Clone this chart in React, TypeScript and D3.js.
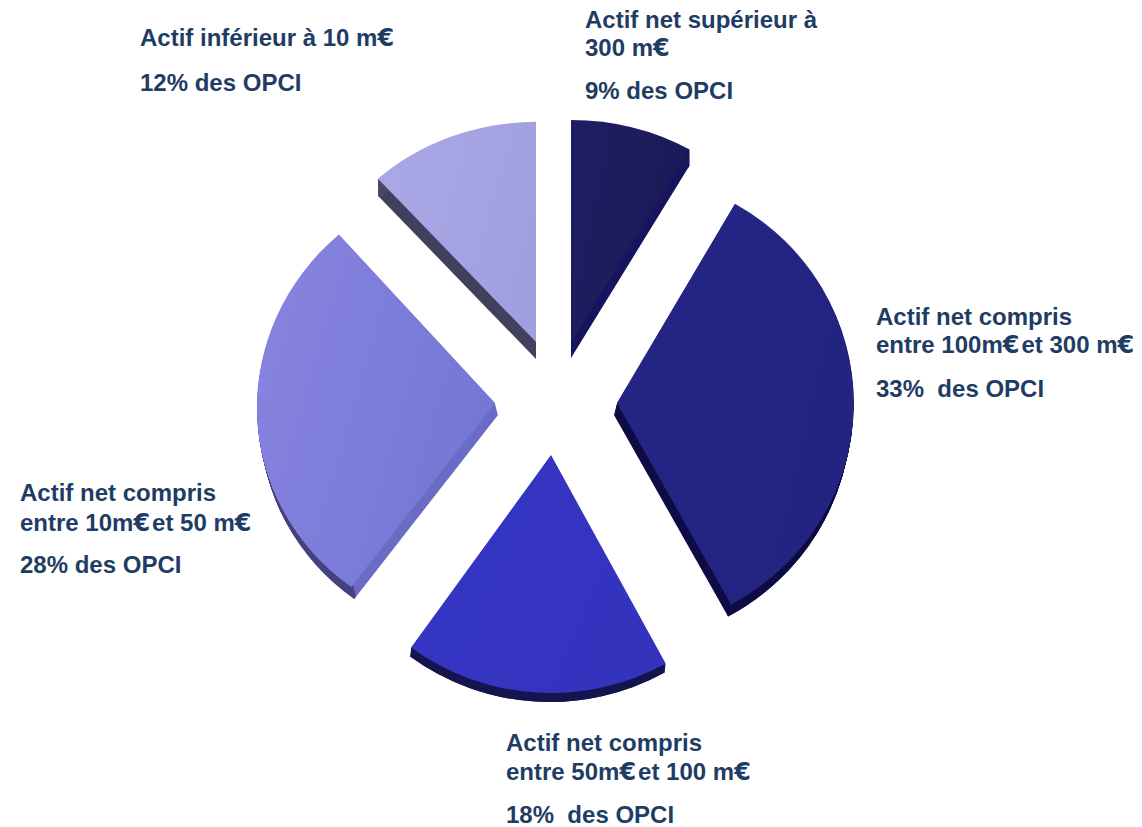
import React from "react";
import * as d3 from "d3";

const W = 1142;
const H = 827;

// Shares as drawn (starting at 12 o'clock, clockwise); the labels carry the printed percentages
const categories = [
  "Actif net supérieur à 300 m€",
  "Actif net compris entre 100m€ et 300 m€",
  "Actif net compris entre 50m€ et 100 m€",
  "Actif net compris entre 10m€ et 50 m€",
  "Actif inférieur à 10 m€",
];
const shares = [8.3, 33.7, 18, 28.3, 11.7];

// Exploded layout of each slice: apex and the projection's scale
const apexX = [571, 617, 551, 495, 536];
const apexY = [342, 403, 455, 403, 342];
const scaleX = [1.0, 0.995, 1.0, 1.0, 0.99];
const scaleY = [0.933, 0.966, 1.0, 0.955, 0.925];
const skewK = [0, 0, 0, -0.02, 0];
const depthX = [0, -3, -1, 3, 0];
const depthY = [16, 12, 9, 12, 17];

const gradStart = ["#201e63", "#252586", "#3636c6", "#8984e0", "#aba8e7"];
const gradEnd = ["#1b1a56", "#232381", "#3333be", "#7577d5", "#a1a0df"];
const edgeColor = ["#17155f", "#0f0d45", "#15154f", "#6b6cc4", "#43415f"];
const rimColor = ["#17155f", "#0f0d45", "#15154f", "#45437f", "#4a4868"];

const labelX = [585, 876, 506, 20, 140];
const labelLines = [
  ["Actif net supérieur à", "300 m€", "9% des OPCI"],
  ["Actif net compris", "entre 100m€et 300 m€", "33%  des OPCI"],
  ["Actif net compris", "entre 50m€et 100 m€", "18%  des OPCI"],
  ["Actif net compris", "entre 10m€et 50 m€", "28% des OPCI"],
  ["Actif inférieur à 10 m€", "12% des OPCI"],
];
const labelBaselines = [
  [28, 56, 99],
  [325, 353, 397],
  [751, 780, 823],
  [501, 531, 573],
  [46, 91],
];

const R = 238;

export default function App() {
  const pie = d3.pie<number>().sort(null).value((d) => d);
  const arcs = pie(shares);
  const sector = d3.arc<d3.PieArcDatum<number>>().innerRadius(0).outerRadius(R);
  const rim = d3
    .arc<d3.PieArcDatum<number>>()
    .innerRadius(R - 3)
    .outerRadius(R);

  return (
    <svg
      width={W}
      height={H}
      viewBox={`0 0 ${W} ${H}`}
      style={{ position: "absolute", left: 0, top: 0, display: "block", background: "#fff" }}
    >
      <defs>
        {arcs.map((_, i) => (
          <linearGradient key={i} id={`grad${i}`} x1="0" y1="0" x2="1" y2="0.4">
            <stop offset="0" stopColor={gradStart[i]} />
            <stop offset="1" stopColor={gradEnd[i]} />
          </linearGradient>
        ))}
      </defs>
      {arcs.map((a, i) => {
        const steps = d3.range(Math.abs(depthY[i]), 0, -1);
        const place = (t: number) =>
          `translate(${apexX[i] + (depthX[i] * t) / depthY[i]},${apexY[i] + t}) matrix(${scaleX[i]},0,${skewK[i]},${scaleY[i]},0,0)`;
        return (
          <g key={categories[i]}>
            {steps.map((t) => (
              <path key={`e${t}`} d={sector(a) as string} fill={edgeColor[i]} transform={place(t)} />
            ))}
            {steps.map((t) => (
              <path key={`r${t}`} d={rim(a) as string} fill={rimColor[i]} transform={place(t)} />
            ))}
            <path d={sector(a) as string} fill={`url(#grad${i})`} transform={place(0)} />
          </g>
        );
      })}
      <g fontFamily="'Liberation Sans', Arial, sans-serif" fontWeight={700} fontSize={24} fill="#1f3d64">
        {labelLines.map((lines, i) =>
          lines.map((line, j) => (
            <text key={`${i}-${j}`} x={labelX[i]} y={labelBaselines[i][j]} xmlSpace="preserve">
              {line.split("€").map((part, k) => (
                <React.Fragment key={k}>
                  {k > 0 && <tspan fontFamily="'DejaVu Sans'">€</tspan>}
                  {part && <tspan dx={k > 0 ? 2 : 0}>{part}</tspan>}
                </React.Fragment>
              ))}
            </text>
          ))
        )}
      </g>
    </svg>
  );
}
